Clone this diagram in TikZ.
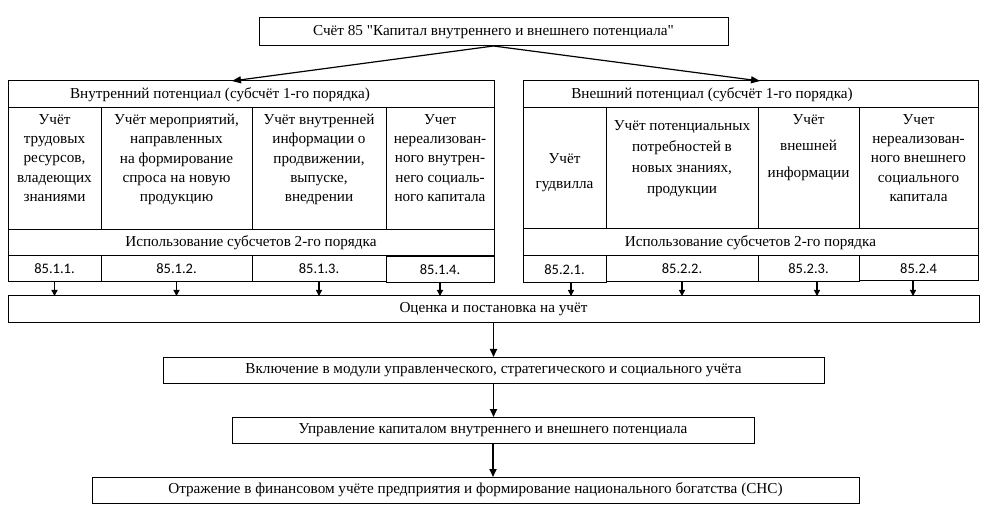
\documentclass[tikz,border=0pt]{standalone}
\usepackage{fontspec}
\setmainfont{Liberation Serif}[Ligatures=TeXOff]
\newfontfamily\numfont{Carlito}
\usetikzlibrary{arrows.meta, positioning}
\tikzset{
  cellbox/.style={draw, line width=1pt, inner sep=0pt, outer sep=0pt},
  box/.style={draw, line width=1pt, inner sep=0pt, outer sep=0pt, font=\fontsize{15.2}{19.3}\selectfont},
  txt/.style={align=center, inner sep=0pt, font=\fontsize{15.2}{19.3}\selectfont},
  num/.style={draw, line width=1pt, inner sep=0pt, outer sep=0pt, font=\numfont\fontsize{14.5}{17}\selectfont},
  flow/.style={-{Triangle[length=8pt,width=7pt]}, line width=1.7pt},
  split/.style={-{Triangle[length=9pt,width=7pt]}, line width=1.2pt},
  feed/.style={-{Triangle[length=6pt,width=6pt]}, line width=1.3pt},
}

\begin{document}
\begin{tikzpicture}[x=1pt, y=-1pt]
    \useasboundingbox (0,0) rectangle (990,510);
    % account 85
    \node[box, minimum width=469pt, minimum height=28pt] (acc) at (493.5,32)
      {Счёт 85 "Капитал внутреннего и внешнего потенциала"};

    % internal potential
    \node[cellbox, minimum width=486pt, minimum height=27pt] (lhead) at (251,94.5) {};
    \node[txt] (lheadt) at (220,94.5) {Внутренний потенциал (субсчёт 1-го порядка)};
    \node[cellbox, minimum width=93pt,  minimum height=122pt] (l1) at (54.5,169) {};
    \node[cellbox, minimum width=151pt, minimum height=122pt] (l2) at (176.5,169) {};
    \node[cellbox, minimum width=134pt, minimum height=122pt] (l3) at (319,169) {};
    \node[cellbox, minimum width=108pt, minimum height=122pt] (l4) at (440,169) {};
    \node[txt, anchor=north] (l1t) at (54.5,114) {Учёт\\трудовых\\ресурсов,\\владеющих\\знаниями};
    \node[txt, anchor=north] (l2t) at (176.5,114) {Учёт мероприятий,\\направленных\\на формирование\\спроса на новую\\продукцию};
    \node[txt, anchor=north] (l3t) at (319,114) {Учёт внутренней\\информации о\\продвижении,\\выпуске,\\внедрении};
    \node[txt, anchor=north] (l4t) at (440,114) {Учет\\нереализован-\\ного внутрен-\\него социаль-\\ного капитала};
    \node[box, minimum width=486pt, minimum height=26pt] (luse) at (251,243) {Использование субсчетов 2-го порядка};
    \node[num, minimum width=93pt,  minimum height=26pt] (n11) at (54.5,269) {85.1.1.};
    \node[num, minimum width=151pt, minimum height=26pt] (n12) at (176.5,269) {85.1.2.};
    \node[num, minimum width=134pt, minimum height=26pt] (n13) at (319,269) {85.1.3.};
    \node[num, minimum width=108pt, minimum height=26pt] (n14) at (440,269.5) {85.1.4.};

    % external potential
    \node[cellbox, minimum width=455pt, minimum height=27pt] (rhead) at (750.5,94.5) {};
    \node[txt] (rheadt) at (712,94.5) {Внешний потенциал (субсчёт 1-го порядка)};
    \node[cellbox, minimum width=83pt,  minimum height=121pt] (r1) at (564.5,168.5) {};
    \node[cellbox, minimum width=152pt, minimum height=121pt] (r2) at (682,168.5) {};
    \node[cellbox, minimum width=101pt, minimum height=121pt] (r3) at (808.5,168.5) {};
    \node[cellbox, minimum width=119pt, minimum height=121pt] (r4) at (918.5,168.5) {};
    \node[txt, anchor=north] (r1t) at (564.5,153) {Учёт\\[6pt]гудвилла};
    \node[txt, anchor=north, font=\fontsize{15.2}{21.2}\selectfont] (r2t) at (682,120) {Учёт потенциальных\\потребностей в\\новых знаниях,\\продукции};
    \node[txt, anchor=north, font=\fontsize{15.2}{26.5}\selectfont] (r3t) at (808.5,114) {Учёт\\внешней\\информации};
    \node[txt, anchor=north] (r4t) at (918.5,114) {Учет\\нереализован-\\ного внешнего\\социального\\капитала};
    \node[box, minimum width=455pt, minimum height=27pt] (ruse) at (750.5,242.5) {Использование субсчетов 2-го порядка};
    \node[num, minimum width=83pt,  minimum height=27pt] (n21) at (564.5,269.5) {85.2.1.};
    \node[num, minimum width=152pt, minimum height=26pt] (n22) at (682,269) {85.2.2.};
    \node[num, minimum width=101pt, minimum height=26pt] (n23) at (808.5,269) {85.2.3.};
    \node[num, minimum width=119pt, minimum height=25pt] (n24) at (918.5,268.5) {85.2.4};

    % chain
    \node[box, minimum width=971pt, minimum height=27pt] (eval) at (493.5,309.5) {Оценка и постановка на учёт};
    \node[box, minimum width=661pt, minimum height=26pt] (incl) at (493.5,370) {Включение в модули управленческого, стратегического и социального учёта};
    \node[box, minimum width=522pt, minimum height=26pt] (mgmt) at (493,430) {Управление капиталом внутреннего и внешнего потенциала};
    \node[box, minimum width=767pt, minimum height=26pt] (refl) at (475.5,490) {Отражение в финансовом учёте предприятия и формирование национального богатства (СНС)};

    \draw[split] (acc.south) -- ([xshift=-19pt]lhead.north);
    \draw[split] (acc.south) -- ([xshift=9.5pt]rhead.north);

    \draw[feed] (n11) -- (n11 |- eval.north);
    \draw[feed] (n12) -- (n12 |- eval.north);
    \draw[feed] (n13) -- (n13 |- eval.north);
    \draw[feed] (n14) -- (n14 |- eval.north);
    \draw[feed] ([xshift=6.5pt]n21.south) -- ([xshift=6.5pt]n21.south |- eval.north);
    \draw[feed] (n22) -- (n22 |- eval.north);
    \draw[feed] ([xshift=8.5pt]n23.south) -- ([xshift=8.5pt]n23.south |- eval.north);
    \draw[feed] ([xshift=-5.5pt]n24.south) -- ([xshift=-5.5pt]n24.south |- eval.north);

    \draw[flow] (eval) -- (incl);
    \draw[flow] (incl) -- (incl |- mgmt.north);
    \draw[flow] (mgmt) -- (mgmt |- refl.north);
  \end{tikzpicture}
\end{document}
